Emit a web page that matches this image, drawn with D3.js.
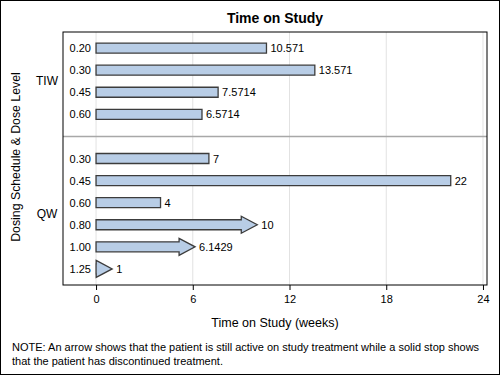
<!DOCTYPE html>
<html>
<head>
<meta charset="utf-8">
<script src="https://cdn.jsdelivr.net/npm/d3@7"></script>
<style>
  body { margin: 0; background: #fff; }
  text { font-family: "Liberation Sans", Arial, sans-serif; fill: #000; }
</style>
</head>
<body>
<svg id="chart"></svg>
<script>
// data
const tiwDoses = ['0.20', '0.30', '0.45', '0.60'];
const tiwWeeks = [10.571, 13.571, 7.5714, 6.5714];
const tiwActive = [false, false, false, false];

const qwDoses = ['0.30', '0.45', '0.60', '0.80', '1.00', '1.25'];
const qwWeeks = [7, 22, 4, 10, 6.1429, 1];
const qwActive = [false, false, false, true, true, true];

const xTicks = [0, 6, 12, 18, 24];

const width = 500, height = 375;
const plot = { left: 63, right: 487, top: 32, bottom: 285 };

// build rows: TIW rows, a gap slot, then QW rows
let rows = [];
tiwDoses.forEach((d, i) => rows.push({ key: 'TIW-' + d, group: 'TIW', dose: d, weeks: tiwWeeks[i], active: tiwActive[i] }));
qwDoses.forEach((d, i) => rows.push({ key: 'QW-' + d, group: 'QW', dose: d, weeks: qwWeeks[i], active: qwActive[i] }));
let keys = tiwDoses.map(d => 'TIW-' + d).concat(['gap']).concat(qwDoses.map(d => 'QW-' + d));

const svg = d3.select('#chart')
    .attr('width', width)
    .attr('height', height);

const xScale = d3.scaleLinear()
    .domain([-2.05, 24.25])
    .range([plot.left, plot.right]);

const yScale = d3.scalePoint()
    .domain(keys)
    .range([plot.top, plot.bottom])
    .padding(0.73);

// outer border
svg.append('rect')
    .attr('x', 0.5).attr('y', 0.5)
    .attr('width', width - 1).attr('height', height - 1)
    .attr('fill', 'none').attr('stroke', '#000');

// grid lines
svg.append('g')
    .selectAll('line')
    .data(xTicks)
    .join('line')
    .attr('x1', d => xScale(d)).attr('x2', d => xScale(d))
    .attr('y1', plot.top).attr('y2', plot.bottom)
    .attr('stroke', '#e2e2e2');

// panel divider
svg.append('line')
    .attr('x1', plot.left).attr('x2', plot.right)
    .attr('y1', yScale('gap')).attr('y2', yScale('gap'))
    .attr('stroke', '#a8a8a8')
    .attr('stroke-width', 1.5);

// x axis
const xAxis = d3.axisBottom(xScale)
    .tickValues(xTicks)
    .tickSize(5)
    .tickPadding(5)
    .tickSizeOuter(0);

const xAxisG = svg.append('g')
    .attr('transform', `translate(0,${plot.bottom})`)
    .call(xAxis);
xAxisG.select('.domain').remove();
xAxisG.selectAll('text')
    .attr('font-size', 11)
    .attr('font-family', '"Liberation Sans", Arial, sans-serif')
    .attr('fill', '#000');
xAxisG.selectAll('line').attr('stroke', '#000');

// bars and arrows
const barH = 10, headH = 17, headLen = 16;
const fill = '#b8cde6', stroke = '#3c3c3c';

function shape(d) {
    let y = yScale(d.key);
    let x0 = xScale(0), x1 = xScale(d.weeks);
    if (!d.active) {
        return `M${x0},${y - barH / 2}H${x1}V${y + barH / 2}H${x0}Z`;
    }
    let xh = Math.max(x0, x1 - headLen);
    return `M${x0},${y - barH / 2}H${xh}V${y - headH / 2}L${x1},${y}L${xh},${y + headH / 2}V${y + barH / 2}H${x0}Z`;
}

svg.append('g')
    .selectAll('path')
    .data(rows)
    .join('path')
    .attr('d', shape)
    .attr('fill', fill)
    .attr('stroke', stroke)
    .attr('stroke-width', 1.3);

// value labels
svg.append('g')
    .selectAll('text')
    .data(rows)
    .join('text')
    .attr('x', d => xScale(d.weeks) + 4)
    .attr('y', d => yScale(d.key) + 4)
    .attr('font-size', 11)
    .text(d => String(d.weeks));

// dose labels
svg.append('g')
    .selectAll('text')
    .data(rows)
    .join('text')
    .attr('x', 91)
    .attr('y', d => yScale(d.key) + 4)
    .attr('text-anchor', 'end')
    .attr('font-size', 11)
    .text(d => d.dose);

// group labels
const groups = [
    { name: 'TIW', keys: tiwDoses.map(d => 'TIW-' + d) },
    { name: 'QW', keys: qwDoses.map(d => 'QW-' + d) }
];
svg.append('g')
    .selectAll('text')
    .data(groups)
    .join('text')
    .attr('x', 47)
    .attr('y', d => (yScale(d.keys[0]) + yScale(d.keys[d.keys.length - 1])) / 2 + 4)
    .attr('text-anchor', 'middle')
    .attr('font-size', 12)
    .text(d => d.name);

// plot frame
svg.append('rect')
    .attr('x', plot.left).attr('y', plot.top)
    .attr('width', plot.right - plot.left)
    .attr('height', plot.bottom - plot.top)
    .attr('fill', 'none')
    .attr('stroke', '#000');

// title
svg.append('text')
    .attr('x', (plot.left + plot.right) / 2)
    .attr('y', 23)
    .attr('text-anchor', 'middle')
    .attr('font-size', 14)
    .attr('font-weight', 'bold')
    .text('Time on Study');

// axis titles
svg.append('text')
    .attr('x', (plot.left + plot.right) / 2)
    .attr('y', 327)
    .attr('text-anchor', 'middle')
    .attr('font-size', 12.5)
    .text('Time on Study (weeks)');

svg.append('text')
    .attr('transform', 'rotate(-90)')
    .attr('x', -157)
    .attr('y', 20)
    .attr('text-anchor', 'middle')
    .attr('font-size', 12.3)
    .text('Dosing Schedule & Dose Level');

// footnote
svg.append('text')
    .attr('x', 12)
    .attr('y', 351)
    .attr('font-size', 11)
    .text('NOTE: An arrow shows that the patient is still active on study treatment while a solid stop shows');
svg.append('text')
    .attr('x', 12)
    .attr('y', 365)
    .attr('font-size', 11)
    .text('that the patient has discontinued treatment.');
</script>
</body>
</html>
